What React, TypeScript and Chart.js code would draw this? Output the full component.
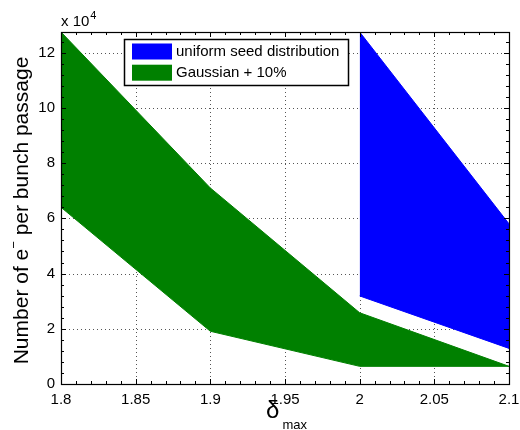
import React, { useEffect, useRef } from "react";
import { Chart, registerables } from "chart.js";

Chart.register(...registerables);

// ---- data ----
const greenX = [1.8, 1.9, 2.0, 2.1];
const greenUpper = [127500, 71000, 25800, 6400];
const greenLower = [64000, 19100, 6400, 6400];
const blueX = [2.0, 2.1];
const blueUpper = [127500, 58000];
const blueLower = [31900, 12900];
const legendLabels = ["uniform seed distribution", "Gaussian + 10%"];
const seriesColors = ["#0000FF", "#008000"];
const xTicks = [1.8, 1.85, 1.9, 1.95, 2.0, 2.05, 2.1];
const yTicks = [0, 20000, 40000, 60000, 80000, 100000, 120000];
const xTickMin = 1.8;
const xTickMax = 2.1;
const xMinorStep = 0.01;
const yTickMin = 0;
const yTickMax = 127500;
const yMinorStep = 4000;

const FONT = "'Liberation Sans', Arial, Helvetica, sans-serif";

const pts = (xs: number[], ys: number[]) => xs.map((x, i) => ({ x, y: ys[i] }));

const decorPlugin = {
  id: "decor",
  beforeDatasetsDraw(chart: any) {
    const { ctx, chartArea: a, scales } = chart;
    const xs = scales.x, ys = scales.y;
    ctx.save();
    ctx.strokeStyle = "#555";
    ctx.lineWidth = 1;
    ctx.setLineDash([1, 3]);
    xTicks.slice(1, -1).forEach((v) => {
      const px = Math.round(xs.getPixelForValue(v)) + 0.5;
      ctx.beginPath(); ctx.moveTo(px, a.top); ctx.lineTo(px, a.bottom); ctx.stroke();
    });
    yTicks.slice(1).forEach((v) => {
      const py = Math.round(ys.getPixelForValue(v)) + 0.5;
      ctx.beginPath(); ctx.moveTo(a.left, py); ctx.lineTo(a.right, py); ctx.stroke();
    });
    ctx.restore();
  },
  afterDatasetsDraw(chart: any) {
    const { ctx, chartArea: a, scales } = chart;
    const xs = scales.x, ys = scales.y;
    ctx.save();
    ctx.strokeStyle = "#000";
    ctx.lineWidth = 1;
    ctx.setLineDash([]);
    const nx = Math.round((xTickMax - xTickMin) / xMinorStep);
    for (let i = 0; i <= nx; i++) {
      const len = i % 5 === 0 ? 5 : 3;
      const px = Math.round(xs.getPixelForValue(xTickMin + i * xMinorStep)) + 0.5;
      ctx.beginPath();
      ctx.moveTo(px, a.bottom); ctx.lineTo(px, a.bottom - len);
      ctx.moveTo(px, a.top); ctx.lineTo(px, a.top + len);
      ctx.stroke();
    }
    const ny = Math.floor((yTickMax - yTickMin) / yMinorStep + 1e-9);
    for (let i = 0; i <= ny; i++) {
      const len = i % 5 === 0 ? 5 : 3;
      const py = Math.round(ys.getPixelForValue(yTickMin + i * yMinorStep)) + 0.5;
      ctx.beginPath();
      ctx.moveTo(a.left, py); ctx.lineTo(a.left + len, py);
      ctx.moveTo(a.right, py); ctx.lineTo(a.right - len, py);
      ctx.stroke();
    }
    ctx.lineWidth = 1.2;
    ctx.strokeRect(Math.round(a.left) + 0.5, Math.round(a.top) + 0.5,
      Math.round(a.right - a.left), Math.round(a.bottom - a.top));
    ctx.restore();
  },
  afterDraw(chart: any) {
    const { ctx, chartArea: a } = chart;
    ctx.save();
    ctx.fillStyle = "#000";
    ctx.textAlign = "left";
    ctx.textBaseline = "alphabetic";
    ctx.font = `15px ${FONT}`;
    ctx.fillText("x 10", a.left, 26);
    const w10 = ctx.measureText("x 10").width;
    ctx.font = `11px ${FONT}`;
    ctx.fillText("4", a.left + w10 + 1, 19);

    // y title
    ctx.save();
    ctx.translate(27.5, 210.5);
    ctx.rotate(-Math.PI / 2);
    const p1 = "Number of e", sup = "\u2212", p2 = " per bunch passage";
    ctx.font = `21px ${FONT}`;
    const w1 = ctx.measureText(p1).width;
    const w3 = ctx.measureText(p2).width;
    ctx.font = `13px ${FONT}`;
    const w2 = ctx.measureText(sup).width;
    const total = w1 + w2 + w3;
    const x0 = -total / 2;
    ctx.font = `21px ${FONT}`;
    ctx.fillText(p1, x0, 0);
    ctx.font = `13px ${FONT}`;
    ctx.fillText(sup, x0 + w1, -10);
    ctx.font = `21px ${FONT}`;
    ctx.fillText(p2, x0 + w1 + w2, 0);
    ctx.restore();

    // x title
    const cx = (a.left + a.right) / 2;
    ctx.font = `24px ${FONT}`;
    const wd = ctx.measureText("\u03b4").width;
    ctx.font = `13px ${FONT}`;
    const wm = ctx.measureText("max").width;
    const sx = cx - (wd + wm) / 2;
    ctx.font = `24px ${FONT}`;
    ctx.fillText("\u03b4", sx, 418);
    ctx.font = `13px ${FONT}`;
    ctx.fillText("max", sx + wd + 3, 429);

    // legend
    const bx = 124.5, by = 39.5, bw = 224, bh = 46;
    ctx.fillStyle = "#fff";
    ctx.fillRect(bx, by, bw, bh);
    ctx.strokeStyle = "#000";
    ctx.lineWidth = 1.5;
    ctx.strokeRect(bx, by, bw, bh);
    ctx.font = `15px ${FONT}`;
    ctx.textBaseline = "middle";
    const rows = [51.5, 72.7];
    legendLabels.forEach((lab, i) => {
      ctx.fillStyle = seriesColors[i];
      ctx.fillRect(132, rows[i] - 8, 40, 16);
      ctx.fillStyle = "#000";
      ctx.fillText(lab, 176, rows[i] + 0.5);
    });
    ctx.restore();
  },
};

export default function App() {
  const ref = useRef<HTMLCanvasElement>(null);
  useEffect(() => {
    document.body.style.margin = "0";
    const canvas = ref.current!;
    const band = (xs: number[], ys: number[], color: string, fill: any) => ({
      data: pts(xs, ys),
      borderColor: color,
      backgroundColor: color,
      borderWidth: 1,
      pointRadius: 0,
      fill,
      tension: 0,
    });
    const chart = new Chart(canvas, {
      type: "line",
      data: {
        datasets: [
          { label: "Gaussian upper", ...band(greenX, greenUpper, seriesColors[1], "+1") },
          { label: "Gaussian lower", ...band(greenX, greenLower, seriesColors[1], false) },
          { label: "uniform upper", ...band(blueX, blueUpper, seriesColors[0], "+1") },
          { label: "uniform lower", ...band(blueX, blueLower, seriesColors[0], false) },
        ],
      },
      options: {
        animation: false,
        responsive: false,
        devicePixelRatio: 1,
        layout: { padding: { left: 0, top: 32, right: 0, bottom: 0 } },
        plugins: { legend: { display: false }, tooltip: { enabled: false } },
        scales: {
          x: {
            type: "linear",
            min: xTickMin,
            max: xTickMax,
            grid: { display: false, drawTicks: false },
            border: { display: false },
            afterBuildTicks: (s: any) => { s.ticks = xTicks.map((value) => ({ value })); },
            ticks: {
              padding: 7,
              color: "#000",
              font: { family: FONT, size: 15 },
              maxRotation: 0,
              autoSkip: false,
              callback: (v: any) => String(Number(Number(v).toFixed(2))),
            },
            afterFit: (s: any) => { s.height = 46; s.paddingRight = 11; s.paddingLeft = 0; },
          },
          y: {
            type: "linear",
            min: yTickMin,
            max: yTickMax,
            grid: { display: false, drawTicks: false },
            border: { display: false },
            afterBuildTicks: (s: any) => { s.ticks = yTicks.map((value) => ({ value })); },
            ticks: {
              padding: 6,
              color: "#000",
              autoSkip: false,
              font: { family: FONT, size: 15 },
              callback: (v: any) => String(Math.round(Number(v) / 10000)),
            },
            afterFit: (s: any) => { s.width = 61; s.paddingTop = 0; s.paddingBottom = 0; },
          },
        },
      } as any,
      plugins: [decorPlugin],
    });
    return () => chart.destroy();
  }, []);
  return <canvas ref={ref} width={520} height={430} style={{ width: 520, height: 430, display: "block" }} />;
}
